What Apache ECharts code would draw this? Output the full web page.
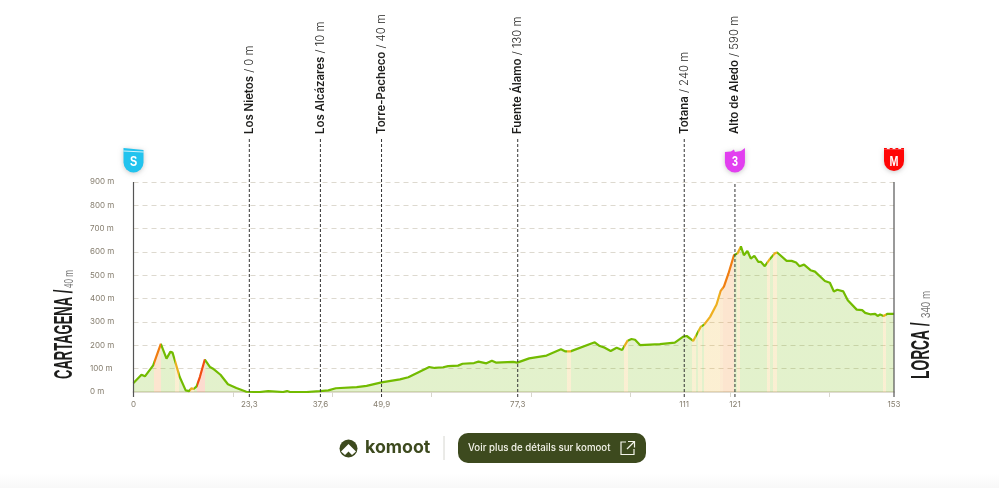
<!DOCTYPE html>
<html><head><meta charset="utf-8">
<style>html,body{margin:0;padding:0;background:#fff}#c{width:999px;height:488px}</style>
<script src="https://cdn.jsdelivr.net/npm/echarts@6/dist/echarts.min.js"></script>
</head><body><div id="c"></div>
<script>
const distances=[0,1.6,2.3,3.96,5.5,6.64,6.97,7.44,7.85,8.5,9.3,10.5,11.2,11.67,12.1,12.7,13.35,14.35,15.4,16,17.5,19,20.7,22.7,25.4,27.1,30.1,30.9,31.5,34.8,37.5,39.2,40.7,44.9,46.9,49.9,53.6,55.3,59.5,60.6,62.3,63.3,65.3,66.2,68.5,69.4,71,72.1,72.9,76.4,77.2,77.6,79.6,83.1,86,86.9,87.9,92.8,93.8,94.8,96,97.2,98.3,99.4,100.2,100.9,101.9,105.9,108.9,110.6,111.3,112.6,114.1,114.8,116,117.3,118.1,118.8,119.7,120.8,121.5,122.2,122.8,123.5,124.2,124.9,125.7,126.2,127,128,129,129.5,131.4,132.4,133.3,134,134.9,136.2,137.1,139.1,140.1,140.9,141.6,142.8,143.7,145.5,146.6,147.2,148.2,149.2,149.7,150.2,150.9,151.7,153];
const elevations=[39,74,67,114,206,143,147,173,169,122,64,7,4,16,13,24,64,139,107,100,74,33,17,1,0,4,0,4,0,0,4,7,16,21,26,41,54,63,107,103,106,111,113,121,124,130,123,134,126,129,126,130,144,156,183,174,174,213,197,190,176,190,180,220,227,224,201,205,212,237,240,219,279,289,322,375,432,453,508,586,594,624,586,604,572,584,558,558,539,569,594,598,562,562,555,539,546,522,516,476,468,431,438,431,393,353,351,339,333,335,326,332,326,335,335];
const gradeBands=[[4.16,5.5,'#f07d10'],[8.4,9.1,'#e8b020'],[11.3,12.1,'#e8b020'],[12.7,14.35,'#f04e10'],[87.3,88.1,'#e8b020'],[98.7,99.4,'#e8b020'],[112.4,113.1,'#e0b820'],[113.6,114.3,'#e0b820'],[114.8,117.9,'#eeb020'],[117.9,118.6,'#f09a20'],[118.6,120.8,'#f07d10'],[121.5,122,'#e8b020'],[127.4,128,'#e8b020'],[128.7,129.4,'#e8b020'],[150.7,151.4,'#e8b020']];
const waypointKm=[23.3,37.6,49.9,77.3,110.8,121];
const waypointNames=['Los Nietos','Los Alcázares','Torre-Pacheco','Fuente Álamo','Totana','Alto de Aledo'];
const waypointElev=['0 m','10 m','40 m','130 m','240 m','590 m'];
const tickValues=[0,23.3,37.6,49.9,77.3,110.8,121,153];
const tickLabels=['0','23,3','37,6','49,9','77,3','111','121','153'];
const minorTicks=[20,40,60,80,100,120,140];
const badgeKm=[0,121,153];
const badgeText=['S','3','M'];
const badgeColors=['#22c3ee','#e23ff0','#ff0606'];
const GREEN='#72bb00';

const pieces=gradeBands.map(b=>({gte:b[0],lt:b[1],color:b[2]}));
const chart=echarts.init(document.getElementById('c'),null,{renderer:'canvas'});
const badgePaths=[
 'M0 0 L20 2 L20 14.5 A10 10 0 0 1 0 14.5 Z',
 'M0 4 L6 3.5 L9 1.5 L10 4 L16 3 L20 0 L20 14.5 A10 10 0 0 1 0 14.5 Z',
 'M0 3 L20 3 L20 14.5 A10 10 0 0 1 0 14.5 Z'];
const narrow='"Liberation Sans Narrow","Liberation Sans"';
chart.setOption({
 animation:false,
 backgroundColor:'#fff',
 textStyle:{fontFamily:'Inter, "Liberation Sans", sans-serif'},
 grid:{left:133.5,right:105,top:182,bottom:96,containLabel:false},
 xAxis:{type:'value',min:0,max:153,
  axisLine:{show:true,onZero:false,lineStyle:{color:'#e0dcd2',width:2}},
  axisTick:{show:true,customValues:minorTicks,length:5,lineStyle:{color:'#d8d6cc',width:1}},
  axisLabel:{show:true,customValues:tickValues,margin:9,fontSize:8,color:'#857d6e',formatter:v=>tickLabels[tickValues.indexOf(v)]},
  splitLine:{show:false}},
 yAxis:{type:'value',min:0,max:900,interval:100,
  axisLine:{show:false},axisTick:{show:false},
  axisLabel:{align:'left',margin:43.5,fontSize:8,color:'#857d6e',formatter:'{value} m'},
  splitLine:{show:true,lineStyle:{color:'#ddd9cf',type:[5,4],width:1}}},
 visualMap:{type:'piecewise',show:false,dimension:0,seriesIndex:0,pieces:pieces,outOfRange:{color:GREEN}},
 series:[
  {type:'line',data:distances.map((d,i)=>[d,elevations[i]]),symbol:'none',showSymbol:false,smooth:false,
   lineStyle:{width:2.2},areaStyle:{opacity:0.2},z:3},
  {type:'custom',coordinateSystem:'cartesian2d',z:5,silent:true,
   data:waypointKm.map((k,i)=>[k,i]),
   encode:{x:0,y:-1},
   renderItem(p,api){
    const km=api.value(0),i=api.value(1);
    const b=api.coord([km,0]),t=api.coord([km,900]);
    const last=i===waypointKm.length-1;
    return {type:'group',children:[
     {type:'line',shape:{x1:b[0],y1:b[1]+5,x2:b[0],y2:last?t[1]:t[1]-45},
      style:{stroke:'#333',lineWidth:1,lineDash:[3,2]}},
     {type:'text',x:b[0],y:t[1]-48,rotation:Math.PI/2,
      style:{text:'{b|'+waypointNames[i]+'}{l| / '+waypointElev[i]+'}',textAlign:'left',textVerticalAlign:'middle',
       rich:{b:{fontFamily:'Inter',fontWeight:600,fontSize:11.4,fill:'#1d1d1b'},l:{fontFamily:'Inter',fontWeight:300,fontSize:11.4,fill:'#1d1d1b'}}}}
    ]};
   }},
  {type:'custom',coordinateSystem:'cartesian2d',z:5,silent:true,
   data:[[0],[153]],encode:{x:0,y:-1},
   renderItem(p,api){
    const km=api.value(0);const b=api.coord([km,0]),t=api.coord([km,900]);
    return {type:'line',shape:{x1:b[0],y1:b[1]+5,x2:b[0],y2:t[1]},style:{stroke:'#555',lineWidth:1.2}};
   }},
  {type:'custom',coordinateSystem:'cartesian2d',z:6,silent:true,
   data:badgeKm.map((k,i)=>[k,i]),encode:{x:0,y:-1},
   renderItem(p,api){
    const km=api.value(0),i=api.value(1);
    const t=api.coord([km,900]);const x=t[0]-10,y=t[1]-34;
    const kids=[
     {type:'path',x:x,y:y,shape:{pathData:badgePaths[i],x:0,y:0,width:20,height:24.5,layout:'center'},
      style:{fill:badgeColors[i],shadowBlur:5,shadowColor:'rgba(0,0,0,.22)',shadowOffsetY:1}},
     {type:'text',x:t[0],y:y+14,scaleX:.72,style:{text:badgeText[i],fontFamily:narrow,fontWeight:700,fontSize:15,fill:'#fff',textAlign:'center',textVerticalAlign:'middle'}}];
    if(i===0)kids.push({type:'line',shape:{x1:x,y1:y+3,x2:x+20,y2:y+4},style:{stroke:'#fff',lineWidth:.8}});
    if(i===2){for(let c=0;c<7;c++){kids.push({type:'rect',shape:{x:x+c*2.86,y:y+(c%2?1.5:0),width:2.86,height:1.6},style:{fill:'#ff0606'}});}}
    return {type:'group',children:kids};
   }}
 ],
 graphic:[
  {type:'text',x:78,y:379,rotation:Math.PI/2,scaleX:.5,style:{text:'CARTAGENA /',fontFamily:narrow,fontWeight:700,fontSize:26,fill:'#1d1d1b',textAlign:'left',textVerticalAlign:'bottom'}},
  {type:'text',x:76,y:288,rotation:Math.PI/2,scaleX:.62,style:{text:'40 m',fontFamily:narrow,fontSize:13,fill:'#777',textAlign:'left',textVerticalAlign:'bottom'}},
  {type:'text',x:935,y:379,rotation:Math.PI/2,scaleX:.53,style:{text:'LORCA /',fontFamily:narrow,fontWeight:700,fontSize:26,fill:'#1d1d1b',textAlign:'left',textVerticalAlign:'bottom'}},
  {type:'text',x:933,y:318,rotation:Math.PI/2,scaleX:.75,style:{text:'340 m',fontFamily:narrow,fontSize:13,fill:'#777',textAlign:'left',textVerticalAlign:'bottom'}},
  {type:'rect',shape:{x:0,y:474,width:999,height:14},style:{fill:new echarts.graphic.LinearGradient(0,0,0,1,[{offset:0,color:'#ffffff'},{offset:1,color:'#f8f8f8'}])}},
  {type:'circle',shape:{cx:348.5,cy:448.5,r:9},style:{fill:'#3d4a1e'}},
  {type:'polygon',shape:{points:[[348.5,444],[356,451.5],[352,455],[348.5,451.5],[345,455],[341,451.5]]},style:{fill:'#fff'}},
  {type:'text',x:365,y:448,style:{text:'komoot',fontFamily:'Inter',fontWeight:700,fontSize:17.8,fill:'#3d4a1e',textAlign:'left',textVerticalAlign:'middle'}},
  {type:'line',shape:{x1:444,y1:436,x2:444,y2:460},style:{stroke:'#d6d6d0',lineWidth:1}},
  {type:'rect',shape:{x:458,y:433,width:188,height:30,r:10},style:{fill:'#3d4a1e'}},
  {type:'text',x:468,y:448,style:{text:'Voir plus de détails sur komoot',fontFamily:'Inter',fontWeight:500,fontSize:9.7,fill:'#f4f4ea',textAlign:'left',textVerticalAlign:'middle'}},
  {type:'polyline',shape:{points:[[626,442],[621,442],[621,454.5],[634,454.5],[634,449]]},style:{fill:'none',stroke:'#f4f4ea',lineWidth:1.2}},
  {type:'polyline',shape:{points:[[628,441.5],[634.5,441.5],[634.5,447.5]]},style:{fill:'none',stroke:'#f4f4ea',lineWidth:1.2}},
  {type:'line',shape:{x1:634.5,y1:441.5,x2:627,y2:449},style:{stroke:'#f4f4ea',lineWidth:1.2}}
 ]
});
</script></body></html>
